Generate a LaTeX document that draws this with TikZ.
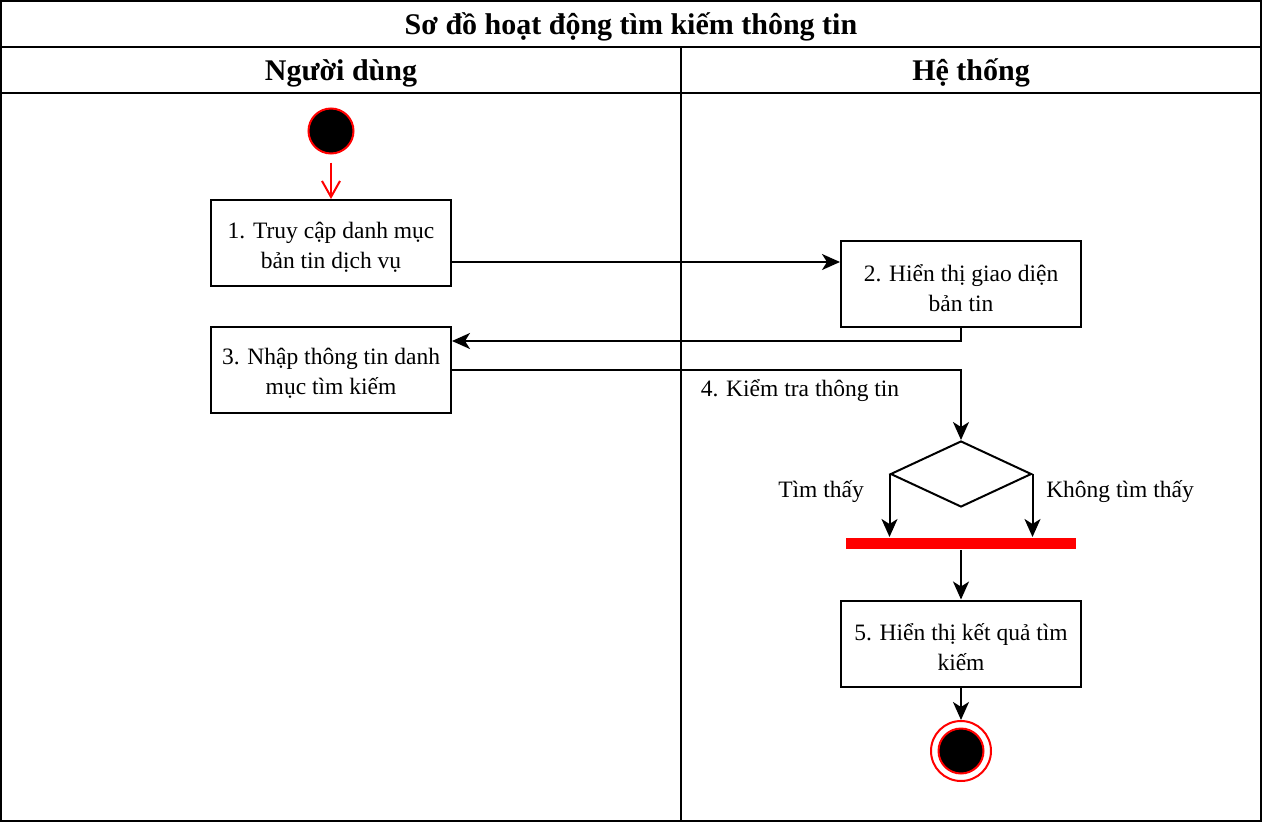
\documentclass[tikz,border=0pt]{standalone}
\usepackage{fontspec}
\setmainfont{Liberation Serif}
\usetikzlibrary{arrows.meta,shapes.geometric}
\begin{document}
\begin{tikzpicture}[x=1pt,y=-1pt, line width=2pt,
  box/.style={draw, minimum width=240pt, minimum height=86pt, inner sep=0pt},
  boxtext/.style={align=center, inner sep=0pt, font=\fontsize{23.5}{30}\selectfont},
  arr/.style={-{Stealth[length=18pt,width=16pt,inset=5pt]}},
  lbl/.style={font=\fontsize{23.5}{28}\selectfont, inner sep=0pt},
  head/.style={font=\bfseries\fontsize{30}{34}\selectfont, inner sep=0pt}]
\useasboundingbox (0,0) rectangle (1262,822);
% frame
\draw (1,1) rectangle (1261,821);
\draw (1,47) -- (1261,47);
\draw (1,93) -- (1261,93);
\draw (681,47) -- (681,821);
\node[head] (title) at (631,27) {Sơ đồ hoạt động tìm kiếm thông tin};
\node[head] (h1) at (341,73) {Người dùng};
\node[head] (h2) at (971,73) {Hệ thống};
% nodes
\node[circle, draw=red, fill=black, minimum size=45pt, inner sep=0pt] (start) at (331,131) {};
\node[box] (b1) at (331,243) {};
\node[boxtext] (t1) at (331,247) {1. Truy cập danh mục\\bản tin dịch vụ};
\node[box] (b2) at (961,284) {};
\node[boxtext] (t2) at (961,288) {2. Hiển thị giao diện\\bản tin};
\node[box] (b3) at (331,369.5) {};
\node[boxtext] (t3) at (331,373.5) {3. Nhập thông tin danh\\mục tìm kiếm};
\node[diamond, draw, minimum width=141pt, minimum height=66pt, inner sep=0pt] (dia) at (961,474) {};
\node[rectangle, fill=red, minimum width=230pt, minimum height=11pt, inner sep=0pt] (bar) at (961,543.5) {};
\node[box] (b5) at (961,643.5) {};
\node[boxtext] (t5) at (961,647.5) {5. Hiển thị kết quả tìm\\kiếm};
\node[circle, draw=red, minimum size=60pt, inner sep=0pt] (endn) at (961,751) {};
\node[circle, draw=red, fill=black, minimum size=45pt, inner sep=0pt] (endi) at (961,751) {};
% connectors
\draw[red, -{Straight Barb[length=16pt,width=18pt]}] ([yshift=-8pt]start.south) -- (b1.north);
\draw[arr] ([yshift=-19pt]b1.east) -- ([yshift=-19pt]b1.east -| b2.west);
\draw[arr] (b2.south) |- ([yshift=28.5pt]b3.east);
\draw[arr] (b3.east) -| (dia.north);
\node[lbl] (l4) at (800,391) {4. Kiểm tra thông tin};
\draw[arr] (dia.west) -- (dia.west |- bar.north);
\draw[arr] (dia.east) -- (dia.east |- bar.north);
\node[lbl] (l5) at (821,492) {Tìm thấy};
\node[lbl] (l6) at (1120,492) {Không tìm thấy};
\draw[arr] (bar.south) -- (b5.north);
\draw[arr] (b5.south) -- (endn.north);
\end{tikzpicture}
\end{document}
